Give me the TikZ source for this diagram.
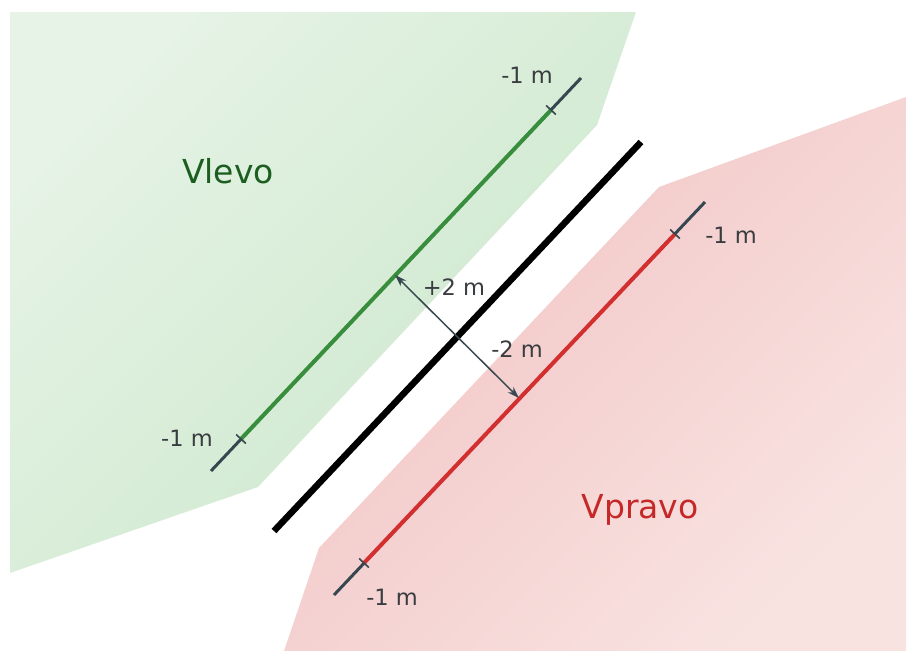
\documentclass[tikz,border=0pt]{standalone}
\usepackage{fontspec}
\setmainfont{DejaVu Sans}
\usetikzlibrary{arrows.meta}
\definecolor{vtGreenA}{HTML}{E6F3E6}
\definecolor{vtGreenB}{HTML}{CBE7CB}
\definecolor{vtRedA}{HTML}{F1C3C3}
\definecolor{vtRedB}{HTML}{F8E3E1}
\definecolor{vtGreen}{HTML}{388E3C}
\definecolor{vtRed}{HTML}{D32F2F}
\definecolor{vtDark}{HTML}{37474F}
\definecolor{vtText}{HTML}{3A3D40}
\definecolor{vtGreenText}{HTML}{1B5E20}
\definecolor{vtRedText}{HTML}{C62828}
\begin{document}
\begin{tikzpicture}[x=1pt,y=-1pt]
\tikzset{
    vtEnd/.style={draw=vtDark,line width=3pt},
    vtTick/.style={draw=vtDark,line width=1.6pt},
    vtArrow/.style={draw=vtDark,line width=1.5pt,arrows={Stealth[length=12pt,width=8pt]-Stealth[length=12pt,width=8pt]}},
    vtLabel/.style={font=\fontsize{22.5}{27}\selectfont,text=vtText,inner sep=0pt},
    vtSide/.style={font=\fontsize{33}{38}\selectfont,inner sep=0pt}
}
\useasboundingbox (0,0) rectangle (906,651);

% left and right zones
\shade[top color=vtGreenA,bottom color=vtGreenB,shading angle=45]
    (10,12) -- (636,12) -- (597,125) -- (258,487) -- (10,573) -- cycle;
\shade[top color=vtRedA,bottom color=vtRedB,shading angle=45]
    (906,97) -- (906,651) -- (284,651) -- (319,548) -- (659,187) -- cycle;

% left track
\coordinate (gA) at (211,471);
\coordinate (gT1) at (241,439);
\coordinate (gT2) at (551,110);
\coordinate (gB) at (581,78);
\coordinate (gP) at (395,275);
\draw[vtEnd] (gA) -- (gB);
\draw[vtGreen,line width=4pt] (gT1) -- (gT2);
\draw[vtTick] (gT1) ++(-4.8,-4.5) -- ++(9.6,9);
\draw[vtTick] (gT2) ++(-4.8,-4.5) -- ++(9.6,9);

% right track
\coordinate (rA) at (334,595);
\coordinate (rT1) at (364,563);
\coordinate (rT2) at (675,234);
\coordinate (rB) at (705,202);
\coordinate (rP) at (519,398);
\draw[vtEnd] (rA) -- (rB);
\draw[vtRed,line width=4pt] (rT1) -- (rT2);
\draw[vtTick] (rT1) ++(-4.8,-4.5) -- ++(9.6,9);
\draw[vtTick] (rT2) ++(-4.8,-4.5) -- ++(9.6,9);

% middle line
\coordinate (mA) at (274,531);
\coordinate (mB) at (641,142);
\draw[black,line width=6.5pt] (mA) -- (mB);

% offset
\draw[vtArrow] (gP) -- (rP);

% labels
\node[vtLabel] (lblPlus) at (454,287) {+2 m};
\node[vtLabel] (lblMinus) at (517,349) {-2 m};
\node[vtLabel] (lblGB) at (527,75) {-1 m};
\node[vtLabel] (lblGA) at (187,438) {-1 m};
\node[vtLabel] (lblRB) at (731,235) {-1 m};
\node[vtLabel] (lblRA) at (392,597) {-1 m};
\node[vtSide,text=vtGreenText] (lblVlevo) at (228,171) {Vlevo};
\node[vtSide,text=vtRedText] (lblVpravo) at (640,510) {Vpravo};
\end{tikzpicture}
\end{document}
